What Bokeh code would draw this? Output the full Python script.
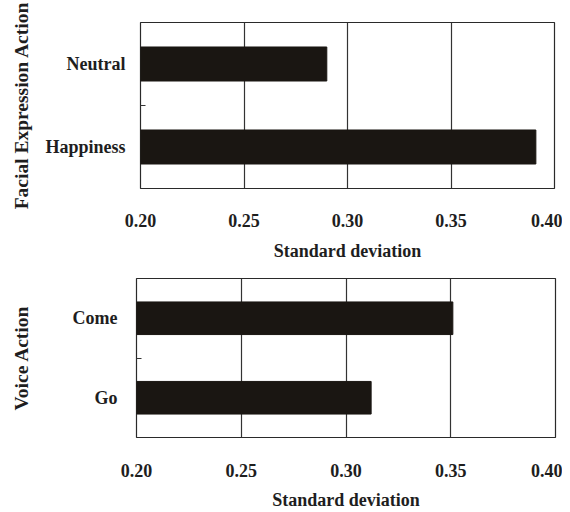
from bokeh.plotting import figure
from bokeh.layouts import column
from bokeh.models import Range1d, FixedTicker, NumeralTickFormatter, ColumnDataSource
from bokeh.embed import file_html
from bokeh.resources import INLINE

# ---- data ----
face_categories = ["Happiness", "Neutral"]      # bottom to top
face_sd = [0.391, 0.290]
voice_categories = ["Go", "Come"]               # bottom to top
voice_sd = [0.312, 0.351]
x_ticks = [0.20, 0.25, 0.30, 0.35, 0.40]
x_title = "Standard deviation"

FONT = "Liberation Serif"
TXT = "#1e1e1e"
BAR = "#1a1612"


def make_panel(cats, vals, ytitle, height, left, right, top, bottom,
               ylab_standoff, ytitle_standoff, xlab_standoff, xtitle_standoff):
    pos = [i + 0.5 for i in range(len(cats))]
    src = ColumnDataSource(dict(y=pos, right=vals, left=[x_ticks[0]] * len(vals)))
    p = figure(width=562, height=height, output_backend="svg", toolbar_location=None,
               x_range=Range1d(x_ticks[0], x_ticks[-1]), y_range=Range1d(0, len(cats)),
               min_border_left=left, min_border_right=right,
               min_border_top=top, min_border_bottom=bottom)
    p.hbar(y="y", left="left", right="right", height=0.41, source=src,
           fill_color=BAR, line_color=BAR)
    p.background_fill_color = "white"
    p.border_fill_color = "white"
    p.outline_line_color = "#2a2a2a"
    p.outline_line_width = 1.2
    p.outline_line_alpha = 1

    # x axis
    p.xaxis.ticker = FixedTicker(ticks=x_ticks)
    p.xaxis.formatter = NumeralTickFormatter(format="0.00")
    p.xaxis.axis_line_color = None
    p.xaxis.major_tick_line_color = None
    p.xaxis.minor_tick_line_color = None
    p.xaxis.major_tick_out = 0
    p.xaxis.major_tick_in = 0
    p.xaxis.minor_tick_out = 0
    p.xaxis.major_label_standoff = xlab_standoff
    p.xaxis.axis_label = x_title
    p.xaxis.axis_label_standoff = xtitle_standoff
    p.xgrid.ticker = FixedTicker(ticks=x_ticks)
    p.xgrid.grid_line_color = "#333333"
    p.xgrid.grid_line_width = 1.2
    p.xgrid.grid_line_alpha = 1
    p.ygrid.grid_line_color = None

    # y axis
    p.yaxis.ticker = FixedTicker(ticks=pos, minor_ticks=[1.0])
    p.yaxis.major_label_overrides = {pos[i]: cats[i] for i in range(len(cats))}
    p.yaxis.axis_line_color = None
    p.yaxis.major_tick_line_color = None
    p.yaxis.major_tick_out = 0
    p.yaxis.major_tick_in = 0
    p.yaxis.minor_tick_line_color = "#333333"
    p.yaxis.minor_tick_in = 5
    p.yaxis.minor_tick_out = 0
    p.yaxis.major_label_standoff = ylab_standoff
    p.yaxis.axis_label = ytitle
    p.yaxis.axis_label_standoff = ytitle_standoff

    for ax in (p.xaxis, p.yaxis):
        ax.major_label_text_font = FONT
        ax.major_label_text_font_style = "bold"
        ax.major_label_text_font_size = "18px"
        ax.major_label_text_color = TXT
        ax.axis_label_text_font = FONT
        ax.axis_label_text_font_style = "bold"
        ax.axis_label_text_color = TXT
    p.xaxis.axis_label_text_font_size = "18px"
    p.yaxis.axis_label_text_font_size = "19.5px"
    return p


top = make_panel(face_categories, face_sd, "Facial Expression Action", 263,
                 left=140, right=8, top=22, bottom=72,
                 ylab_standoff=15, ytitle_standoff=10,
                 xlab_standoff=25, xtitle_standoff=11)
bot = make_panel(voice_categories, voice_sd, "Voice Action", 249,
                 left=136, right=7, top=15, bottom=72,
                 ylab_standoff=19, ytitle_standoff=38,
                 xlab_standoff=26, xtitle_standoff=10)

layout = column(column(top), column(bot), spacing=0)
open("out.html", "w").write(file_html(layout, INLINE))
